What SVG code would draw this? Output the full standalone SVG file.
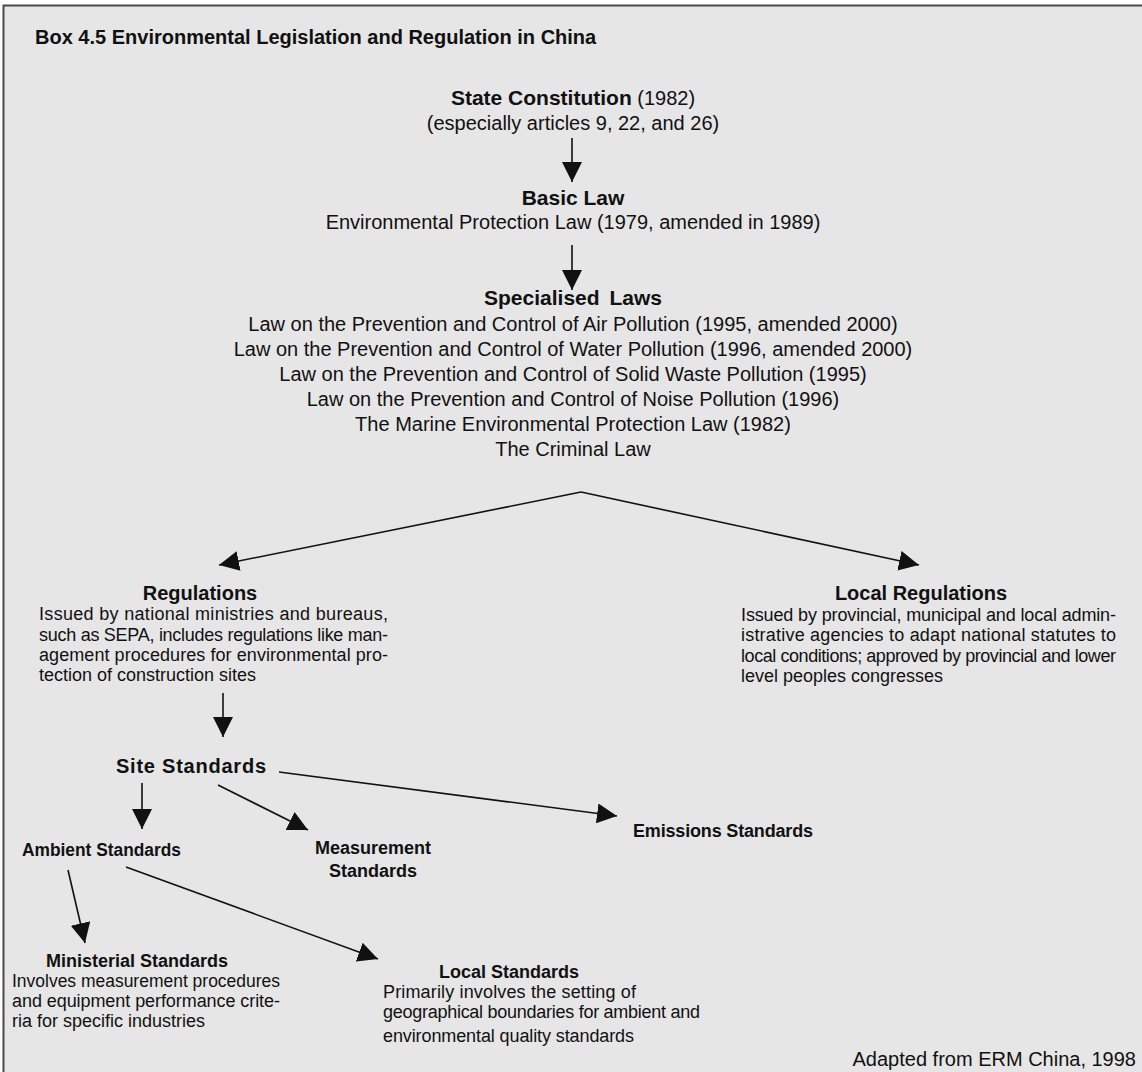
<svg xmlns="http://www.w3.org/2000/svg" width="1142" height="1072" viewBox="0 0 1142 1072">
<defs>
<style>
text{font-family:"Liberation Sans",Arial,sans-serif;fill:#111;}
.h{font-weight:bold;font-size:21px;}
.h2{font-weight:bold;font-size:20px;}
.h3{font-weight:bold;font-size:18px;}
.t{font-size:20px;}
.d{font-size:18px;}
.c{text-anchor:middle;}
.ln{stroke:#111;stroke-width:1.6;fill:none;}
</style>
<marker id="ah" viewBox="0 0 20 20" markerWidth="20" markerHeight="20" refX="20" refY="10" orient="auto" markerUnits="userSpaceOnUse">
<path d="M0,0 L20,10 L0,20 z" fill="#111"/>
</marker>
</defs>
<rect x="0" y="0" width="1142" height="1072" fill="#ffffff"/>
<rect x="3.5" y="5.5" width="1160" height="1090" fill="#e6e6e6" stroke="#4a4a4a" stroke-width="2"/>

<g id="title"><text class="h2" x="35" y="44">Box 4.5  Environmental Legislation and Regulation in China</text></g>

<g id="constitution">
<text class="t c" x="573" y="105"><tspan class="h">State Constitution</tspan> (1982)</text>
<text class="t c" x="573" y="130">(especially articles 9, 22, and 26)</text>
</g>
<g id="basic-law">
<text class="h c" x="573" y="205">Basic Law</text>
<text class="t c" x="573" y="229">Environmental Protection Law (1979, amended in 1989)</text>
</g>
<g id="specialised-laws">
<text class="h c" x="573" y="305" style="word-spacing:4px">Specialised Laws</text>
<text class="t c" x="573" y="331">Law on the Prevention and Control of Air Pollution (1995, amended 2000)</text>
<text class="t c" x="573" y="356">Law on the Prevention and Control of Water Pollution (1996, amended 2000)</text>
<text class="t c" x="573" y="381">Law on the Prevention and Control of Solid Waste Pollution (1995)</text>
<text class="t c" x="573" y="406">Law on the Prevention and Control of Noise Pollution (1996)</text>
<text class="t c" x="573" y="431">The Marine Environmental Protection Law (1982)</text>
<text class="t c" x="573" y="456">The Criminal Law</text>
</g>
<g id="regulations">
<text class="h2 c" x="200" y="600">Regulations</text>
<text class="d" x="39" y="620" textLength="349" lengthAdjust="spacing">Issued by national ministries and bureaus,</text>
<text class="d" x="39" y="641" textLength="349" lengthAdjust="spacing">such as SEPA, includes regulations like man-</text>
<text class="d" x="39" y="661" textLength="349" lengthAdjust="spacing">agement procedures for environmental pro-</text>
<text class="d" x="39" y="681">tection of construction sites</text>
</g>
<g id="local-regulations">
<text class="h2 c" x="921" y="600">Local Regulations</text>
<text class="d" x="741" y="621" textLength="375" lengthAdjust="spacing">Issued by provincial, municipal and local admin-</text>
<text class="d" x="741" y="641" textLength="375" lengthAdjust="spacing">istrative agencies to adapt national statutes to</text>
<text class="d" x="741" y="662" textLength="375" lengthAdjust="spacing">local conditions; approved by provincial and lower</text>
<text class="d" x="741" y="682">level peoples congresses</text>
</g>
<g id="site-standards">
<text class="h2" x="116" y="773" textLength="150" lengthAdjust="spacing">Site  Standards</text>
</g>
<g id="ambient-standards">
<text class="h3" x="22" y="856" textLength="159" lengthAdjust="spacingAndGlyphs">Ambient Standards</text>
</g>
<g id="measurement-standards">
<text class="h3 c" x="373" y="854">Measurement</text>
<text class="h3 c" x="373" y="877">Standards</text>
</g>
<g id="emissions-standards">
<text class="h3" x="633" y="837" textLength="180" lengthAdjust="spacing">Emissions Standards</text>
</g>
<g id="ministerial-standards">
<text class="h3 c" x="137" y="967">Ministerial Standards</text>
<text class="d" x="12" y="987" textLength="268" lengthAdjust="spacingAndGlyphs">Involves measurement procedures</text>
<text class="d" x="12" y="1007" textLength="268" lengthAdjust="spacing">and equipment performance crite-</text>
<text class="d" x="12" y="1027">ria for specific industries</text>
</g>
<g id="local-standards">
<text class="h3 c" x="509" y="978">Local Standards</text>
<text class="d" x="383" y="998" textLength="253" lengthAdjust="spacing">Primarily involves the setting of</text>
<text class="d" x="383" y="1018" textLength="317" lengthAdjust="spacing">geographical boundaries for ambient and</text>
<text class="d" x="383" y="1042" textLength="251" lengthAdjust="spacing">environmental quality standards</text>
</g>
<g id="source">
<text class="t" x="1136" y="1066" style="text-anchor:end">Adapted from ERM China, 1998</text>
</g>

<g id="connectors" class="ln" marker-end="url(#ah)">
<line x1="572" y1="138" x2="572" y2="182" marker-end="url(#ah)"/>
<line x1="572" y1="245" x2="572" y2="290" marker-end="url(#ah)"/>
<line x1="581" y1="492" x2="219" y2="565" marker-end="url(#ah)"/>
<line x1="581" y1="492" x2="919" y2="565" marker-end="url(#ah)"/>
<line x1="223" y1="693" x2="223" y2="737" marker-end="url(#ah)"/>
<line x1="142" y1="783" x2="142" y2="829" marker-end="url(#ah)"/>
<line x1="218" y1="785" x2="308" y2="830" marker-end="url(#ah)"/>
<line x1="279" y1="772" x2="617" y2="816" marker-end="url(#ah)"/>
<line x1="68" y1="870" x2="85" y2="943" marker-end="url(#ah)"/>
<line x1="126" y1="867" x2="378" y2="959" marker-end="url(#ah)"/>
</g>
</svg>
